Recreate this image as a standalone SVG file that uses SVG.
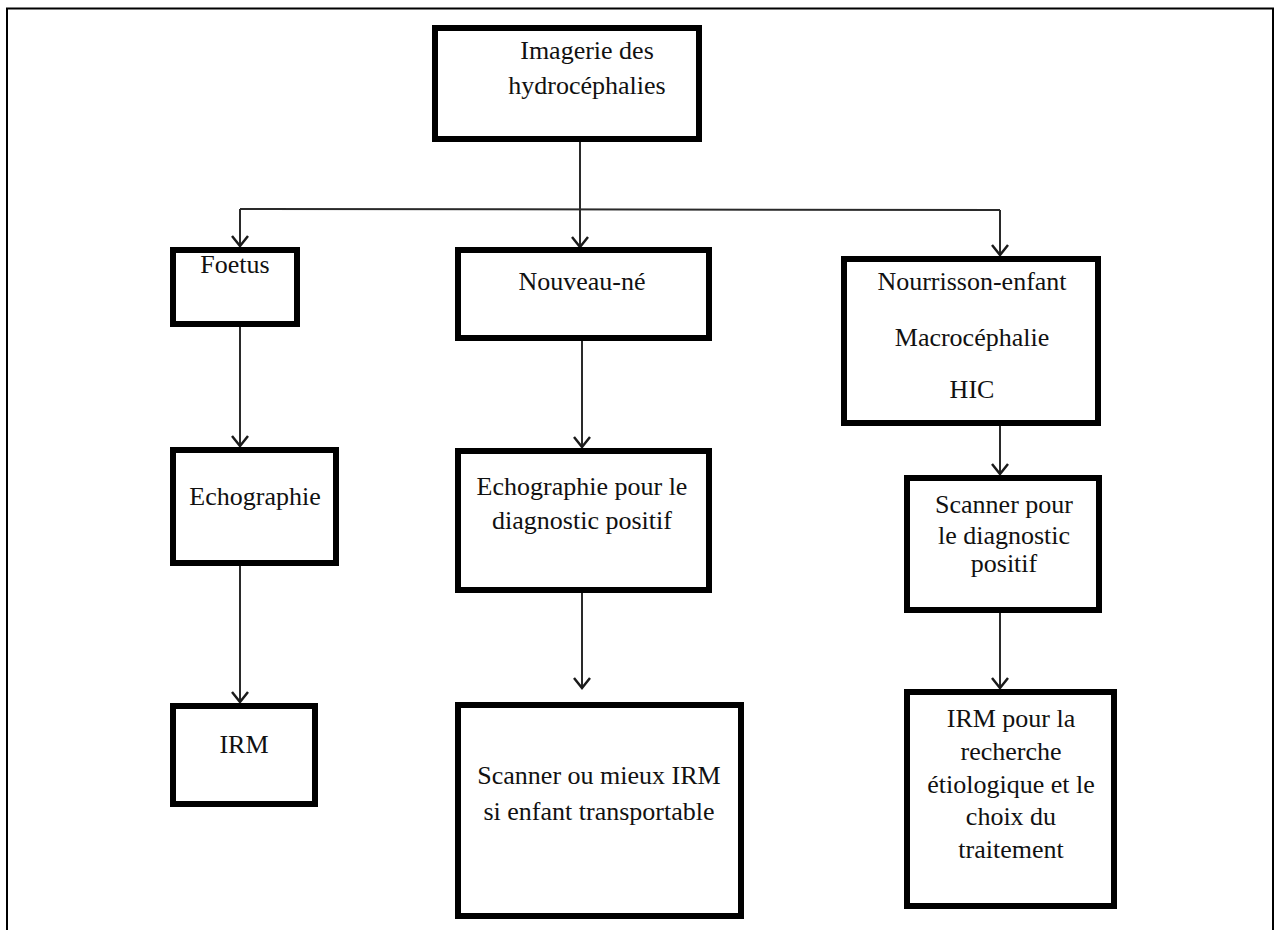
<svg xmlns="http://www.w3.org/2000/svg" width="1277" height="930" viewBox="0 0 1277 930">
  <style>
    .box { fill: #ffffff; stroke: #000000; stroke-width: 6; }
    .lbl { font-family: "Liberation Serif", "Times New Roman", serif; font-size: 26px; fill: #111111; text-anchor: middle; }
    .conn { fill: none; stroke: #2a2a2a; stroke-width: 2; }
    .frame { fill: none; stroke: #000000; stroke-width: 2; }
  </style>
  <defs>
    <marker id="arrow" markerUnits="userSpaceOnUse" markerWidth="24" markerHeight="24" viewBox="-12 -12 24 24" refX="0" refY="0" orient="auto">
      <path d="M-10,-8 L0,0 L-10,8" fill="none" stroke="#1a1a1a" stroke-width="2.5"/>
    </marker>
  </defs>
  <rect width="1277" height="930" fill="#ffffff"/>
  <path class="frame" d="M7,930 L7,8.5 L1273,8.5 L1273,930"/>

  <g id="connectors">
    <path class="conn" d="M580,142 L580,247" marker-end="url(#arrow)"/>
    <path class="conn" d="M240,209 L1000,210"/>
    <path class="conn" d="M240,209 L240,246" marker-end="url(#arrow)"/>
    <path class="conn" d="M1000,210 L1000,255" marker-end="url(#arrow)"/>
    <path class="conn" d="M240,327 L240,446" marker-end="url(#arrow)"/>
    <path class="conn" d="M240,566 L240,702" marker-end="url(#arrow)"/>
    <path class="conn" d="M582,341 L582,447" marker-end="url(#arrow)"/>
    <path class="conn" d="M582,593 L582,688" marker-end="url(#arrow)"/>
    <path class="conn" d="M1000,426 L1000,474" marker-end="url(#arrow)"/>
    <path class="conn" d="M1000,613 L1000,688" marker-end="url(#arrow)"/>
  </g>

  <g id="node-root">
    <rect class="box" x="435" y="28" width="264" height="111"/>
    <text class="lbl" x="587" y="59">Imagerie des</text>
    <text class="lbl" x="587" y="94">hydrocéphalies</text>
  </g>
  <g id="node-foetus">
    <rect class="box" x="173" y="250" width="124" height="74"/>
    <text class="lbl" x="235" y="273">Foetus</text>
  </g>
  <g id="node-nouveau-ne">
    <rect class="box" x="458" y="250" width="251" height="88"/>
    <text class="lbl" x="582" y="290">Nouveau-né</text>
  </g>
  <g id="node-nourrisson">
    <rect class="box" x="844" y="259" width="254" height="164"/>
    <text class="lbl" x="972" y="290">Nourrisson-enfant</text>
    <text class="lbl" x="972" y="346">Macrocéphalie</text>
    <text class="lbl" x="972" y="398">HIC</text>
  </g>
  <g id="node-echo-foetus">
    <rect class="box" x="173" y="450" width="163" height="113"/>
    <text class="lbl" x="255" y="505">Echographie</text>
  </g>
  <g id="node-echo-nouveau-ne">
    <rect class="box" x="458" y="451" width="251" height="139"/>
    <text class="lbl" x="582" y="495">Echographie pour le</text>
    <text class="lbl" x="582" y="529">diagnostic positif</text>
  </g>
  <g id="node-scanner-nourrisson">
    <rect class="box" x="907" y="478" width="192" height="132"/>
    <text class="lbl" x="1004" y="513">Scanner pour</text>
    <text class="lbl" x="1004" y="544">le diagnostic</text>
    <text class="lbl" x="1004" y="572">positif</text>
  </g>
  <g id="node-irm-foetus">
    <rect class="box" x="173" y="706" width="142" height="98"/>
    <text class="lbl" x="244" y="753">IRM</text>
  </g>
  <g id="node-scanner-irm">
    <rect class="box" x="458" y="705" width="283" height="211"/>
    <text class="lbl" x="599" y="784">Scanner ou mieux IRM</text>
    <text class="lbl" x="599" y="820">si enfant transportable</text>
  </g>
  <g id="node-irm-nourrisson">
    <rect class="box" x="907" y="692" width="207" height="214"/>
    <text class="lbl" x="1011" y="727">IRM pour la</text>
    <text class="lbl" x="1011" y="760">recherche</text>
    <text class="lbl" x="1011" y="793">étiologique et le</text>
    <text class="lbl" x="1011" y="825">choix du</text>
    <text class="lbl" x="1011" y="858">traitement</text>
  </g>
</svg>
